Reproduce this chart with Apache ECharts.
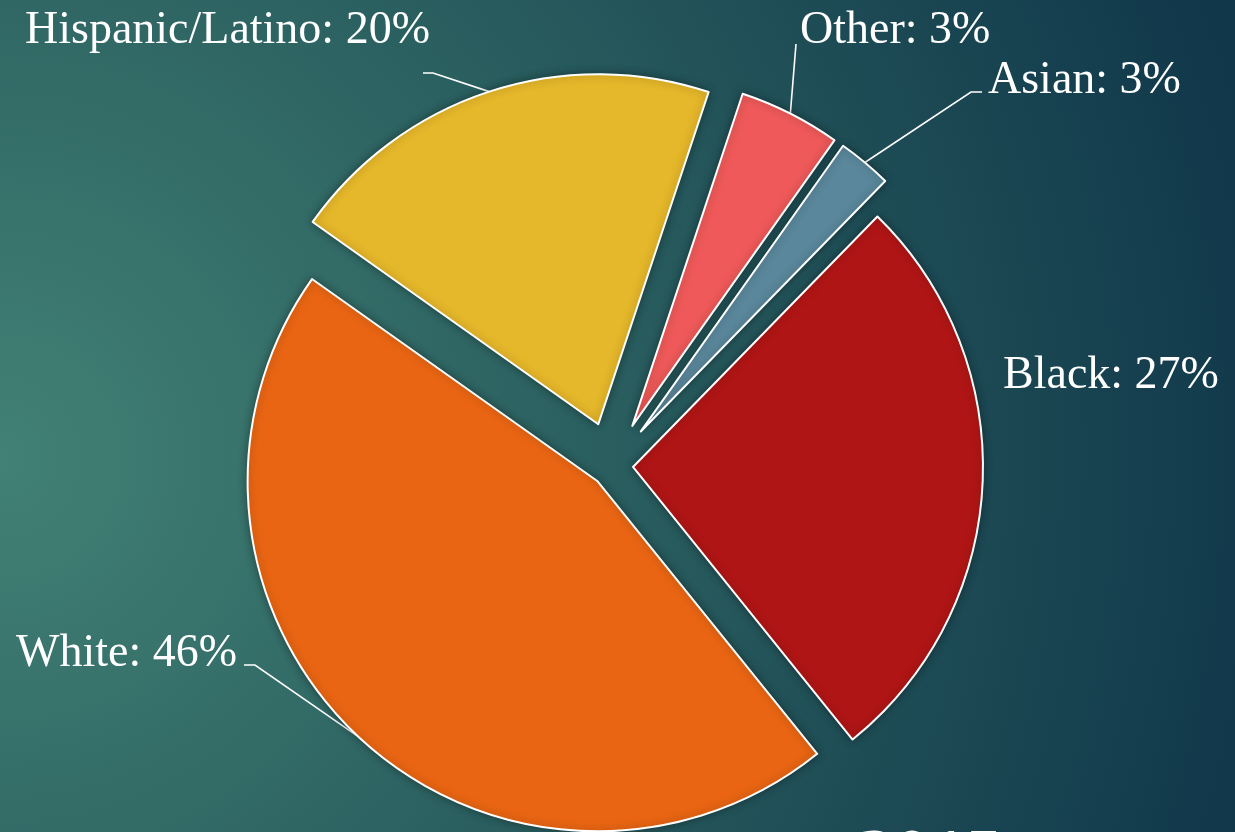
<!DOCTYPE html>
<html>
<head>
<meta charset="utf-8">
<script src="https://cdn.jsdelivr.net/npm/echarts@6/dist/echarts.min.js"></script>
<style>
  html, body { margin: 0; padding: 0; }
  #chart { width: 1235px; height: 832px; }
</style>
</head>
<body>
<div id="chart"></div>
<script>
// slice order is clockwise from the Black slice
var groups = ['Black', 'White', 'Hispanic/Latino', 'Other', 'Asian'];
var shares = [26.9, 45.6, 20.3, 4.7, 2.5];   // measured slice sizes
var printed = [27, 46, 20, 3, 3];            // percentages as printed on the labels
var colors = ['#b01515', '#e96513', '#e5b72a', '#ef5959', '#5a879b'];
var explode = [21, 21, 44, 45, 45];

var cx = 612, cy = 466, radius = 350;
var firstEdge = 44.3; // degrees clockwise from 12 o'clock

// where each label sits, and the bend of its leader line
var labelSpots = [
  { x: 1003, y: 376, align: 'left' },
  { x: 237, y: 654, align: 'right', line: [[255, 665], [244, 665]] },
  { x: 25, y: 31, align: 'left', line: [[433, 73], [423, 73]] },
  { x: 800, y: 31, align: 'left', line: [[796, 44]] },
  { x: 988, y: 81, align: 'left', line: [[971, 92], [982, 92]] }
];

var total = shares.reduce(function (a, b) { return a + b; }, 0);
var font = '"Liberation Serif", "DejaVu Serif", serif';

var series = [];
var cum = 0;
groups.forEach(function (g, i) {
  var mid = (firstEdge + 360 * (cum + shares[i] / 2) / total) * Math.PI / 180;
  cum += shares[i];
  series.push({
    type: 'pie',
    silent: true,
    animation: false,
    avoidLabelOverlap: false,
    radius: radius,
    center: [cx + explode[i] * Math.sin(mid), cy - explode[i] * Math.cos(mid)],
    startAngle: 90 - firstEdge,
    clockwise: true,
    label: {
      color: '#ffffff',
      fontFamily: font,
      fontSize: 46,
      overflow: 'none',
      formatter: function (p) { return p.name + ': ' + printed[p.dataIndex] + '%'; }
    },
    labelLine: { lineStyle: { color: '#ffffff', width: 1.6 } },
    labelLayout: function (params) {
      var s = labelSpots[params.dataIndex];
      var out = { x: s.x, y: s.y, align: s.align, verticalAlign: 'middle' };
      if (s.line && params.labelLinePoints) {
        out.labelLinePoints = [params.labelLinePoints[0]].concat(s.line);
      }
      return out;
    },
    data: groups.map(function (name, j) {
      var on = j === i;
      return {
        name: name,
        value: shares[j],
        itemStyle: on ? {
          color: colors[j], borderColor: '#ffffff', borderWidth: 2,
          shadowBlur: 8, shadowColor: 'rgba(0,0,0,0.35)'
        } : { color: 'transparent', borderWidth: 0 },
        label: { show: on },
        labelLine: { show: on && !!labelSpots[j].line }
      };
    })
  });
});

var chart = echarts.init(document.getElementById('chart'));
chart.setOption({
  backgroundColor: {
    type: 'radial', x: 0, y: 0.55, r: 1.55,
    colorStops: [
      { offset: 0, color: '#428175' },
      { offset: 0.45, color: '#2b6060' },
      { offset: 1, color: '#10374a' }
    ]
  },
  graphic: [{
    type: 'text', x: 858, y: 823, silent: true,
    style: { text: '2015', fill: '#ffffff', font: 'bold 72px ' + font }
  }],
  series: series
});
</script>
</body>
</html>
